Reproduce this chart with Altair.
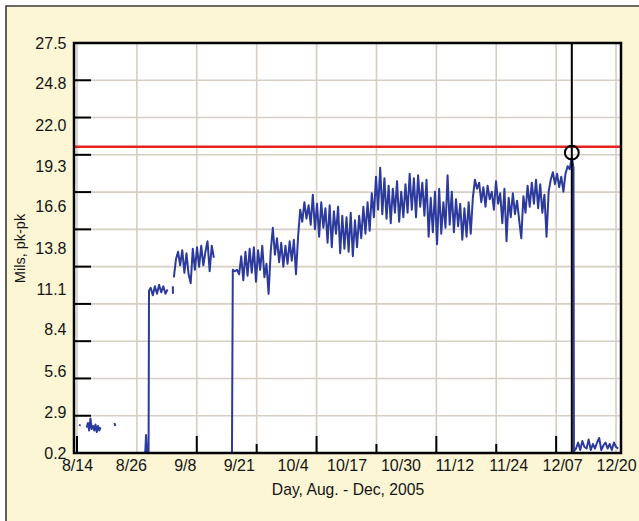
import altair as alt
import pandas as pd

# ---- axis text -------------------------------------------------------------
x_labels = ["8/14", "8/26", "9/8", "9/21", "10/4", "10/17",
            "10/30", "11/12", "11/24", "12/07", "12/20"]
x_label_step = 12.8          # days between labelled dates
y_ticks = [0.2, 2.9, 5.6, 8.4, 11.1, 13.8, 16.6, 19.3, 22.0, 24.8, 27.5]

# ---- reference lines -------------------------------------------------------
alarm_level = 20.6           # mils pk-pk
trip_day = 117.5             # days after 8/14
trip_value = 20.2

# ---- vibration readings (day = days after 8/14, value = mils pk-pk) --------
a1_days = [0.6, 0.75]
a1_vals = [2.0, 2.1]

a2_start, a2_step = 2.3, 0.3
a2_vals = [1.9, 2.2, 1.7, 2.5, 1.8, 2.0, 1.7, 2.1, 1.6, 2.0, 1.7, 1.9]

a3_days = [8.9, 9.1]
a3_vals = [2.2, 2.0]

b_days = [16.2, 16.4, 16.6, 17.0, 17.1, 17.5, 18.0, 18.5, 19.0,
          19.5, 20.0, 20.5, 21.0, 21.5]
b_vals = [0.2, 1.4, 0.3, 0.3, 11.0, 11.2, 10.7, 11.3, 10.8,
          11.4, 10.9, 11.3, 10.8, 11.1]

b2_days = [22.75, 22.8]
b2_vals = [11.3, 10.8]

c_start, c_step = 23.0, 0.5
c_vals = [11.9, 13.1, 13.6, 12.7, 13.7, 12.2, 13.5, 12.1, 11.5, 13.8,
          12.4, 13.9, 12.6, 14.0, 12.7, 13.6, 14.3, 12.3, 14.0, 13.2]

d_restart = (36.8, 0.2)
d_start, d_step = 37.0, 0.5
d_vals = [
    12.4, 12.3, 12.4, 12.1,
    13.3, 11.7, 13.6, 12.0, 13.8, 12.2, 13.9, 11.6, 13.7, 12.4, 14.0, 11.9, 12.8, 10.8,
    13.6, 15.2, 13.4, 14.5, 12.9, 14.2, 12.6, 14.0, 12.8, 14.3, 13.0, 14.4, 12.1,
    14.6, 16.4, 15.6, 16.9,
    15.8, 16.7, 15.4, 17.4, 15.1, 16.8, 14.6, 16.9, 15.2, 16.5, 14.2, 16.7, 13.9,
    16.3, 14.8, 16.6, 13.5, 16.0, 13.8,
    15.9, 13.6, 16.2, 13.3, 15.7, 13.9, 16.0,
    14.5, 16.6, 14.8, 16.9, 15.0, 17.5,
    15.9, 18.6, 16.4, 19.2, 16.1,
    18.5, 15.8, 18.0, 15.5, 17.8, 16.2, 18.3, 15.6, 17.6, 15.9, 18.1,
    16.2, 18.8, 16.4, 18.5, 15.9, 18.7, 16.6, 18.2, 16.0, 18.4,
    14.6, 17.2, 14.9,
    17.6, 14.1, 17.8, 14.8,
    16.9, 15.2, 18.7,
    15.4, 17.6, 14.9, 17.1, 15.3, 16.8,
    14.4, 16.5, 14.6, 16.9, 14.8,
    17.2, 18.4,
    17.8, 18.2, 16.9, 17.9, 16.6, 18.0, 17.1, 17.6, 16.4, 18.3, 16.8,
    17.5, 15.5, 17.8, 14.3,
    17.2, 15.9, 17.5, 16.1, 17.0, 15.7, 14.5,
    17.3, 16.2, 18.0, 16.6, 18.2, 16.8,
    18.4, 16.5, 18.1, 16.2, 17.4, 14.6,
    17.6, 18.4, 18.9, 18.1, 18.8, 17.9, 18.6, 17.6,
    18.8, 19.3, 19.1, 19.9,
]
d_tail_days = [117.9, 118.0]
d_tail_vals = [19.2, 0.3]

e_start, e_step = 118.5, 0.5
e_vals = [0.5, 0.9, 0.4, 1.0, 0.6, 0.5, 1.1, 0.4, 0.8, 0.5, 0.9,
          1.2, 0.4, 0.7, 0.9, 0.5, 0.8, 0.4, 0.9, 0.6, 0.5]


def stepped(start, step, vals):
    return [start + i * step for i in range(len(vals))]


pieces = [
    (a1_days, a1_vals),
    (stepped(a2_start, a2_step, a2_vals), a2_vals),
    (a3_days, a3_vals),
    (b_days, b_vals),
    (b2_days, b2_vals),
    (stepped(c_start, c_step, c_vals), c_vals),
    ([d_restart[0]] + stepped(d_start, d_step, d_vals) + d_tail_days
     + stepped(e_start, e_step, e_vals),
     [d_restart[1]] + d_vals + d_tail_vals + e_vals),
]

rows = []
for seg, (days, vals) in enumerate(pieces):
    for i, (dd, vv) in enumerate(zip(days, vals)):
        rows.append({"day": dd, "mils": vv, "seg": seg, "idx": i})
readings = pd.DataFrame(rows)

# ---- look -------------------------------------------------------------------
W, H = 547, 410
CREAM = "#fcf6d4"
GRID = "#d6cdc3"
BLUE = "#2b3a9c"
FONT = "Liberation Sans"
INK = "#141414"

x_scale = alt.Scale(domain=[-0.71, 129.18], nice=False, zero=False)
y_scale = alt.Scale(domain=[0.2, 27.5], nice=False, zero=False)

label_list = ",".join("'%s'" % s for s in x_labels)
x_axis = alt.Axis(
    values=[k * x_label_step for k in range(len(x_labels))],
    labelExpr="[%s][round(datum.value / %s)]" % (label_list, x_label_step),
    title="Day, Aug. - Dec, 2005", grid=False, ticks=False, domain=False,
    labelFont=FONT, labelFontSize=16, labelColor=INK, labelPadding=4,
    labelFlush=False, labelOverlap=False,
    titleFont=FONT, titleFontSize=15.7, titleFontWeight="normal",
    titleColor=INK, titleX=W / 2, titleY=36, titleBaseline="middle",
    zindex=1,
)
y_axis = alt.Axis(
    values=y_ticks, format=".1f",
    title="Mils, pk-pk", grid=False, ticks=False, domain=False,
    labelFont=FONT, labelFontSize=16, labelColor=INK, labelPadding=8,
    labelFlush=False, labelOverlap=False,
    titleFont=FONT, titleFontSize=14.5, titleFontWeight="normal",
    titleColor=INK, titleX=-54, titleY=H / 2, titleBaseline="middle",
    zindex=1,
)


def xq(field="day"):
    return alt.X(f"{field}:Q", scale=x_scale, axis=x_axis)


def yq(field="mils"):
    return alt.Y(f"{field}:Q", scale=y_scale, axis=y_axis)


# gridlines split each axis into equal panels (11 rows, 9 columns)
grid_y = [0.2 + k * (27.5 - 0.2) / 11 for k in range(1, 11)]
grid_x = [k * 128 / 9 for k in range(10)]
tall_x = grid_x[0::2]
short_x = grid_x[3::2][:3]

one = pd.DataFrame({"k": [0]})

frame_bg = alt.Chart(one).mark_rect(
    fill=CREAM, stroke="#3a3a3a", strokeWidth=1.6, clip=False
).encode(x=alt.value(-68), x2=alt.value(W + 40),
         y=alt.value(-37), y2=alt.value(H + 80))

plot_bg = alt.Chart(one).mark_rect(fill="white").encode(
    x=alt.value(0), x2=alt.value(W), y=alt.value(0), y2=alt.value(H))

hgrid = alt.Chart(pd.DataFrame({"mils": grid_y})).mark_rule(
    color=GRID, strokeWidth=1.6
).encode(y=yq())

vgrid = alt.Chart(pd.DataFrame({"day": grid_x})).mark_rule(
    color=GRID, strokeWidth=1.6
).encode(x=xq())

yticks = alt.Chart(pd.DataFrame({"mils": grid_y})).mark_rule(
    color="black", strokeWidth=2
).encode(y=yq(), x=alt.value(0), x2=alt.value(17))

xticks_tall = alt.Chart(pd.DataFrame({"day": tall_x})).mark_rule(
    color="black", strokeWidth=2
).encode(x=xq(), y=alt.value(H), y2=alt.value(H - 17))

xticks_short = alt.Chart(pd.DataFrame({"day": short_x})).mark_rule(
    color="black", strokeWidth=2
).encode(x=xq(), y=alt.value(H), y2=alt.value(H - 9))

trace = alt.Chart(readings).mark_line(
    color=BLUE, strokeWidth=2, strokeJoin="round"
).encode(x=xq(), y=yq(), detail="seg:N", order="idx:Q")

alarm = alt.Chart(pd.DataFrame({"mils": [alarm_level]})).mark_rule(
    color="#e3241f", strokeWidth=2.5
).encode(y=yq())

trip_line = alt.Chart(pd.DataFrame({"day": [trip_day]})).mark_rule(
    color="black", strokeWidth=2
).encode(x=xq())

trip_mark = alt.Chart(
    pd.DataFrame({"day": [trip_day], "mils": [trip_value]})
).mark_point(shape="circle", filled=False, color="black",
             strokeWidth=2, size=190, opacity=1).encode(x=xq(), y=yq())

plot_border = alt.Chart(one).mark_rect(
    fillOpacity=0, stroke="black", strokeWidth=2.5
).encode(x=alt.value(0), x2=alt.value(W), y=alt.value(0), y2=alt.value(H))

chart = alt.layer(
    frame_bg, plot_bg, hgrid, vgrid, yticks, xticks_tall, xticks_short,
    trace, alarm, trip_line, trip_mark, plot_border,
).properties(
    width=W, height=H,
    autosize=alt.AutoSizeParams(type="none"),
    padding={"left": 74, "top": 43, "right": 18, "bottom": 68},
    background="white",
).configure_view(stroke=None)

chart.save("out.html", embed_options={"renderer": "svg", "actions": False})
